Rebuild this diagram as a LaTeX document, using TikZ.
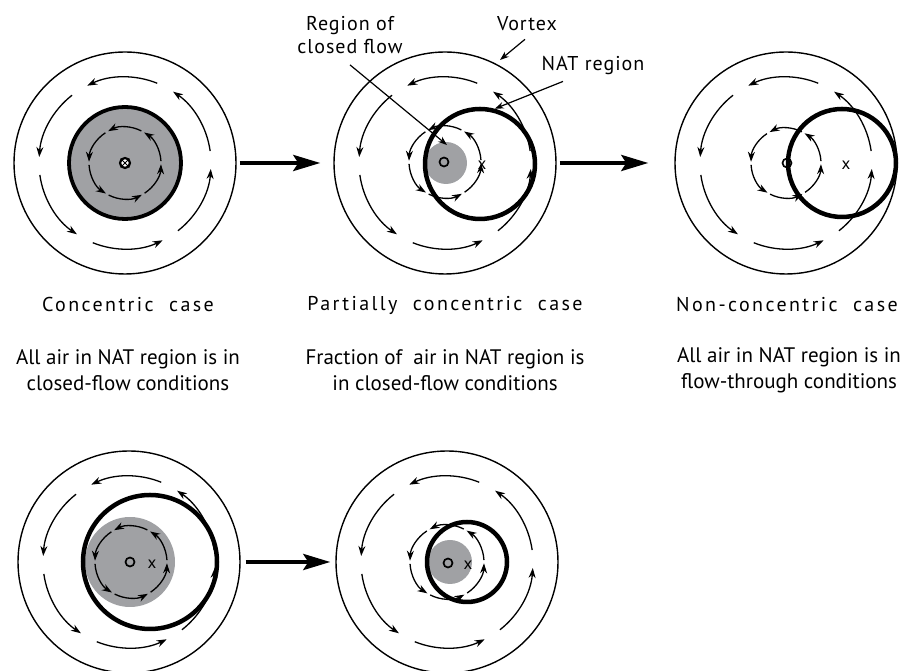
\documentclass[tikz,border=0pt]{standalone}
\usepackage{fontspec}
\setmainfont{PT Sans}
\usetikzlibrary{arrows.meta, positioning, calc}

% ring of six flow arcs round a centre: #1 centre, #2 radius, #3 start offset, #4 end offset
\newcommand{\flowring}[4]{%
  \foreach \a in {0,60,...,300} {
    \draw[flow] ($(#1)+(\a+#3:#2)$) arc[start angle=\a+#3, end angle=\a+#4, radius=#2];
  }%
}

\begin{document}
\begin{tikzpicture}[
  x=1pt, y=1pt,
  vortex/.style  = {draw, circle, line width=1.4pt, minimum size=222pt, inner sep=0pt},
  natring/.style = {draw, circle, line width=4.5pt, inner sep=0pt},
  closed/.style  = {circle, fill=flowgray, inner sep=0pt},
  core/.style    = {draw, circle, line width=1.7pt, minimum size=9pt, inner sep=0pt},
  xmark/.style   = {font=\fontsize{17}{17}\selectfont, inner sep=0pt},
  flow/.style    = {line width=1.3pt, -{Stealth[length=10pt,width=7pt]}},
  bigarrow/.style = {line width=4pt, -{Stealth[length=27pt,width=16pt,inset=5pt]}},
  pointer/.style = {line width=1.2pt, -{Stealth[length=9pt,width=6.5pt]}},
  lbl/.style     = {font=\fontsize{20}{23}\selectfont\addfontfeature{LetterSpace=5}, align=center, inner sep=0pt},
  case/.style    = {font=\fontsize{20}{23}\selectfont\addfontfeature{LetterSpace=12}, inner sep=0pt},
  note/.style    = {font=\fontsize{21}{26}\selectfont, align=center, inner sep=0pt}
]
  \definecolor{flowgray}{RGB}{160,161,164}
  \useasboundingbox (0,0) rectangle (906,671);

  % Concentric case
  \node[vortex] (v1) at (125,508) {};
  \node[closed, draw, line width=3.8pt, minimum size=112pt] (nat1) at (125,508) {};
  \flowring{v1}{86}{8}{56}
  \flowring{v1}{36}{3}{58}
  \node[core, fill=white, line width=2.2pt, minimum size=10pt] (c1) at (125,508) {};
  \draw[line width=1pt] (c1.north west) -- (c1.south east) (c1.north east) -- (c1.south west);

  % Partially concentric case
  \node[vortex] (v2) at (445,508) {};
  \node[closed, minimum size=42pt] (gray2) at (446,508) {};
  \flowring{v2}{86}{8}{56}
  \node[natring, minimum size=110pt] (nat2) at (480,507) {};
  \coordinate (in2) at (445,509);
  \flowring{in2}{36}{3}{58}
  \node[core] (c2) at (444,509) {};
  \node[xmark] (x2) at (482,506) {x};

  % Non-concentric case
  \node[vortex] (v3) at (786,508) {};
  \flowring{v3}{86}{8}{56}
  \node[natring, minimum size=108pt] (nat3) at (842,508) {};
  \flowring{v3}{35}{3}{58}
  \node[core] (c3) at (787,508) {};
  \node[xmark] (x3) at (846,506) {x};

  % bottom row
  \node[vortex] (v4) at (129,109) {};
  \node[closed, minimum size=90pt] (gray4) at (130,109) {};
  \flowring{v4}{86}{8}{56}
  \node[natring, minimum size=134pt] (nat4) at (150,109) {};
  \coordinate (in4) at (131,109);
  \flowring{in4}{36}{3}{58}
  \node[core] (c4) at (130,109) {};
  \node[xmark] (x4) at (152,107) {x};

  \node[vortex] (v5) at (447,109) {};
  \node[closed, minimum size=44pt] (gray5) at (450,109) {};
  \flowring{v5}{86}{8}{56}
  \node[natring, minimum size=80pt] (nat5) at (467,109) {};
  \flowring{v5}{37}{3}{58}
  \node[core] (c5) at (448,108) {};
  \node[xmark] (x5) at (468,106) {x};

  % big arrows between the cases
  \draw[bigarrow, shorten <=3pt, shorten >=13pt] (v1) -- (v2);
  \draw[bigarrow, shorten <=3pt, shorten >=26pt] (v2) -- (v3);
  \draw[bigarrow, shorten <=5pt, shorten >=5pt] (v4) -- (v5);

  % labels with pointers
  \node[lbl] (lblclosed) at (350,636) {Region of\\closed flow};
  \node[lbl] (lblvortex) at (527,647) {Vortex};
  \node[lbl] (lblnat) at (593,605) {NAT region};
  \coordinate (closedtip) at (447,526);
  \coordinate (vortextip) at (500,611);
  \draw[pointer] ([yshift=-11pt]lblclosed.south) -- (closedtip);
  \draw[pointer] ([shift={(-2pt,-8pt)}]lblvortex.south) -- (vortextip);
  \draw[pointer] ([shift={(-30pt,-6pt)}]lblnat.south) -- (nat2.75);

  % case names
  \node[case] (case1) at (128,366) {Concentric\ \ case};
  \node[case] (case2) at (445,366) {Partially\ \ concentric\ \ case};
  \node[case] (case3) at (787,366) {Non-concentric\ \ case};

  % descriptions
  \node[note] (note1) at (128,301) {All air in NAT region is in\\closed-flow conditions};
  \node[note] (note2) at (445,301) {Fraction of\ \ air in NAT region is\\in closed-flow conditions};
  \node[note] (note3) at (789,301) {All air in NAT region is in\\flow-through conditions};
\end{tikzpicture}
\end{document}
